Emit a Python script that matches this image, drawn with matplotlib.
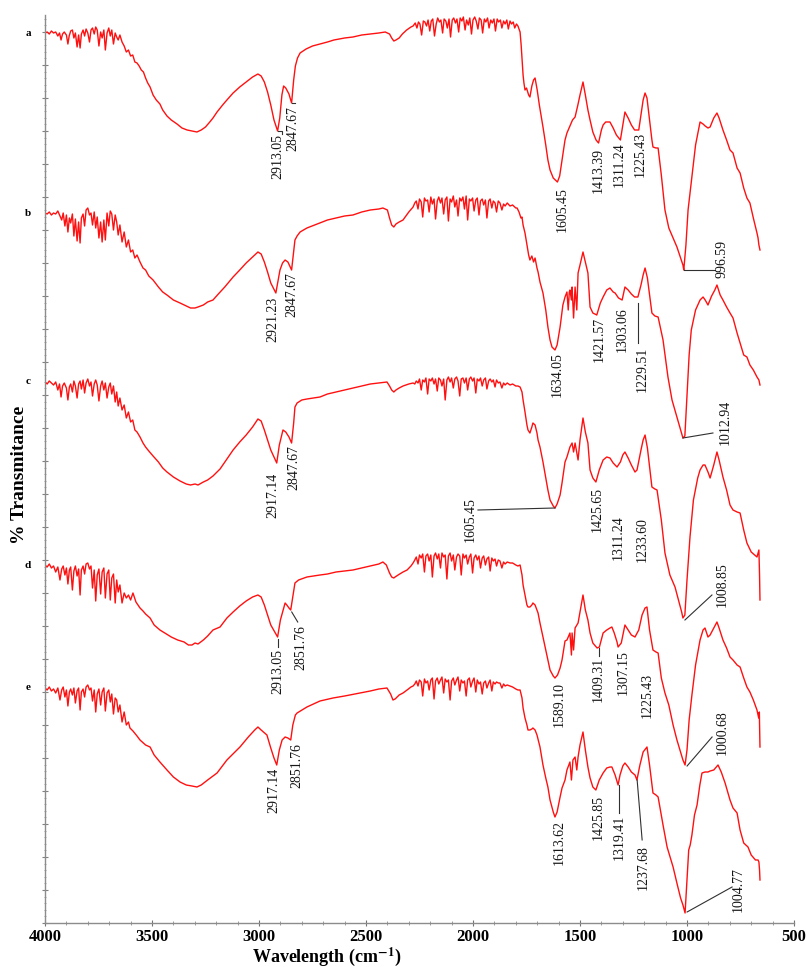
import numpy as np
import matplotlib.pyplot as plt
from matplotlib.ticker import MultipleLocator

plt.rcParams['font.family'] = ['Liberation Serif', 'DejaVu Serif']
plt.rcParams['mathtext.fontset'] = 'stix'

# FTIR spectra: (wavenumber cm-1, %T in arbitrary units,
# 100 = flat high-wavenumber baseline of each sample)
spec_a = [
    (4000, 99), (3990, 100), (3980, 98), (3970, 101), (3960, 99), (3950, 100), (3940, 96), (3932, 99),
    (3925, 92), (3918, 98), (3910, 100), (3900, 97), (3893, 88), (3887, 96), (3880, 101), (3872, 102),
    (3865, 94), (3858, 99), (3850, 85), (3843, 97), (3836, 84), (3830, 98), (3822, 102), (3815, 96),
    (3808, 103), (3800, 99), (3792, 90), (3785, 102), (3778, 104), (3770, 98), (3763, 105), (3756, 102),
    (3748, 86), (3740, 100), (3733, 94), (3725, 102), (3718, 82), (3710, 99), (3702, 104), (3695, 96),
    (3688, 102), (3680, 88), (3672, 99), (3665, 95), (3658, 92), (3650, 97), (3640, 90), (3630, 86),
    (3620, 80), (3610, 82), (3600, 76), (3590, 77), (3580, 70), (3570, 69), (3560, 66), (3550, 62),
    (3540, 60), (3530, 54), (3520, 49), (3509, 45), (3495, 37), (3480, 32), (3463, 28), (3450, 22),
    (3430, 16), (3410, 12), (3383, 8), (3360, 4), (3336, 2), (3313, 1), (3290, 0), (3270, 2),
    (3250, 5), (3230, 10), (3215, 14), (3196, 20), (3170, 27), (3150, 32), (3121, 39), (3090, 45),
    (3060, 50), (3030, 55), (3005, 58), (2990, 56), (2975, 50), (2960, 40), (2945, 27), (2930, 12),
    (2913.05, 1), (2903, 14), (2893, 37), (2885, 46), (2875, 44), (2860, 38), (2847.67, 29), (2838, 52),
    (2830, 66), (2820, 74), (2808, 79), (2780, 83), (2750, 86), (2715, 88), (2680, 90), (2650, 92),
    (2600, 94), (2561, 95), (2520, 97), (2480, 98), (2440, 99), (2410, 100), (2390, 98), (2380, 94),
    (2370, 91), (2360, 92), (2345, 94), (2330, 98), (2310, 102), (2290, 105), (2280, 106), (2270, 109),
    (2262, 104), (2255, 110), (2248, 108), (2240, 97), (2232, 111), (2225, 110), (2217, 106), (2210, 112),
    (2202, 101), (2195, 111), (2188, 113), (2180, 96), (2172, 108), (2165, 114), (2157, 110), (2150, 112),
    (2142, 99), (2135, 113), (2127, 111), (2120, 104), (2112, 113), (2105, 95), (2097, 112), (2090, 114),
    (2082, 109), (2075, 113), (2067, 100), (2060, 114), (2052, 111), (2045, 115), (2037, 102), (2030, 112),
    (2022, 107), (2015, 114), (2007, 98), (2000, 112), (1992, 115), (1985, 111), (1977, 103), (1970, 114),
    (1962, 112), (1955, 99), (1947, 113), (1940, 110), (1932, 114), (1925, 104), (1917, 112), (1910, 109),
    (1902, 113), (1895, 101), (1887, 113), (1880, 110), (1872, 112), (1865, 104), (1857, 111), (1850, 108),
    (1842, 112), (1835, 103), (1827, 111), (1820, 108), (1812, 110), (1805, 104), (1797, 108), (1790, 106),
    (1780, 100), (1775, 87), (1770, 70), (1766, 57), (1762, 49), (1757, 42), (1750, 44), (1740, 37),
    (1734, 35), (1725, 46), (1717, 52), (1710, 54), (1700, 42), (1690, 27), (1680, 14), (1673, 5),
    (1660, -13), (1650, -28), (1640, -38), (1625, -46), (1605.45, -50), (1595, -44), (1584, -28), (1570, -8),
    (1561, -1), (1545, 7), (1535, 12), (1523, 15), (1510, 27), (1500, 37), (1486, 50), (1475, 37),
    (1463, 22), (1453, 12), (1440, 0), (1425, -8), (1413.39, -11), (1400, 2), (1392, 7), (1380, 10),
    (1360, 10), (1345, 4), (1330, -3), (1311.24, -8), (1300, 7), (1290, 20), (1275, 14), (1260, 7),
    (1245, 2), (1225.43, 2), (1215, 17), (1205, 32), (1196, 39), (1187, 34), (1175, 12), (1164, -8),
    (1159, -15), (1145, -16), (1135, -16), (1120, -43), (1103, -78), (1085, -96), (1065, -106), (1047, -115),
    (1030, -126), (1019, -133), (1015, -138), (1005, -113), (995, -78), (977, -45), (960, -13), (939, 10),
    (925, 8), (915, 6), (902, 4), (892, 5), (875, 14), (860, 19), (850, 14), (832, 2),
    (815, -8), (799, -18), (785, -21), (766, -36), (752, -41), (735, -56), (720, -66), (706, -71),
    (690, -86), (673, -101), (668, -106), (664, -113), (659, -118),
]

spec_b = [
    (4000, 100), (3990, 99), (3980, 101), (3970, 98), (3960, 100), (3950, 99), (3940, 102), (3930, 97),
    (3922, 93), (3915, 100), (3907, 87), (3900, 98), (3893, 81), (3886, 95), (3880, 90), (3872, 99),
    (3865, 77), (3858, 94), (3850, 72), (3843, 91), (3836, 70), (3830, 95), (3822, 99), (3815, 87),
    (3808, 103), (3800, 105), (3792, 98), (3785, 100), (3778, 88), (3770, 101), (3763, 85), (3756, 96),
    (3748, 75), (3740, 91), (3733, 71), (3725, 93), (3718, 73), (3710, 100), (3702, 87), (3695, 102),
    (3688, 99), (3680, 83), (3672, 98), (3665, 91), (3658, 78), (3650, 88), (3640, 71), (3630, 81),
    (3620, 66), (3610, 73), (3600, 61), (3590, 63), (3580, 55), (3570, 58), (3556, 51), (3542, 45),
    (3530, 43), (3515, 37), (3495, 33), (3470, 26), (3450, 21), (3430, 18), (3400, 13), (3369, 10),
    (3340, 7), (3320, 5), (3299, 5), (3285, 6), (3260, 8), (3240, 11), (3215, 13), (3190, 19),
    (3160, 26), (3121, 36), (3090, 43), (3060, 50), (3030, 56), (3005, 61), (2990, 59), (2975, 51),
    (2960, 41), (2945, 30), (2921.23, 20), (2912, 31), (2902, 43), (2890, 50), (2878, 53), (2865, 51),
    (2847.67, 43), (2840, 58), (2832, 73), (2822, 77), (2808, 81), (2776, 85), (2740, 88), (2715, 90),
    (2680, 93), (2640, 95), (2600, 97), (2561, 98), (2520, 101), (2480, 103), (2440, 104), (2421, 105),
    (2400, 103), (2390, 95), (2380, 88), (2370, 86), (2360, 89), (2345, 91), (2327, 93), (2300, 101),
    (2280, 106), (2272, 110), (2265, 112), (2257, 104), (2250, 114), (2242, 111), (2235, 96), (2227, 115),
    (2220, 112), (2212, 113), (2205, 101), (2197, 116), (2190, 109), (2182, 114), (2175, 94), (2167, 112),
    (2160, 116), (2152, 110), (2145, 115), (2137, 99), (2130, 113), (2122, 116), (2115, 92), (2107, 114),
    (2100, 111), (2092, 117), (2085, 106), (2077, 113), (2070, 97), (2062, 115), (2055, 112), (2047, 116),
    (2040, 104), (2032, 117), (2025, 93), (2017, 114), (2010, 112), (2002, 115), (1995, 102), (1987, 113),
    (1980, 115), (1972, 98), (1965, 112), (1957, 114), (1950, 108), (1942, 113), (1935, 95), (1927, 112),
    (1920, 114), (1912, 105), (1905, 112), (1897, 110), (1890, 101), (1882, 112), (1874, 110), (1865, 103),
    (1857, 109), (1850, 107), (1840, 110), (1827, 107), (1815, 108), (1800, 105), (1794, 105), (1785, 101),
    (1776, 95), (1771, 96), (1766, 88), (1757, 80), (1748, 68), (1740, 58), (1734, 53), (1725, 57),
    (1717, 51), (1710, 55), (1701, 45), (1696, 41), (1687, 31), (1673, 20), (1660, 3), (1650, -14),
    (1640, -27), (1631, -34), (1617, -37), (1607, -32), (1593, -14), (1580, 8), (1570, 16), (1561, 21),
    (1555, 3), (1550, 21), (1547, 23), (1540, 13), (1537, 26), (1530, -5), (1523, 26), (1515, 3),
    (1509, 40), (1500, 48), (1486, 61), (1475, 51), (1463, 40), (1453, 6), (1440, 0), (1421.57, -2),
    (1405, 10), (1392, 16), (1375, 23), (1360, 25), (1345, 21), (1336, 20), (1320, 15), (1303.06, 13),
    (1290, 26), (1275, 23), (1260, 19), (1245, 16), (1229.51, 16), (1215, 28), (1205, 38), (1196, 45),
    (1185, 35), (1164, 0), (1150, -3), (1135, -4), (1112, -27), (1089, -64), (1070, -87), (1050, -102),
    (1033, -115), (1019, -125), (1010, -123), (1000, -82), (990, -42), (980, -17), (960, 3), (939, 13),
    (925, 16), (915, 13), (902, 8), (885, 17), (870, 23), (860, 28), (845, 18), (832, 13),
    (815, 6), (799, 0), (785, -5), (766, -20), (752, -30), (735, -42), (720, -44), (706, -52),
    (690, -57), (673, -64), (664, -67), (659, -72),
]

spec_c = [
    (4000, 100), (3990, 98), (3980, 101), (3970, 99), (3960, 97), (3950, 100), (3940, 92), (3932, 98),
    (3925, 85), (3918, 96), (3910, 99), (3900, 94), (3893, 82), (3886, 95), (3880, 98), (3872, 90),
    (3865, 101), (3858, 96), (3850, 84), (3843, 98), (3836, 101), (3830, 93), (3822, 102), (3815, 89),
    (3808, 99), (3800, 103), (3792, 96), (3785, 100), (3778, 86), (3770, 98), (3763, 102), (3756, 97),
    (3748, 81), (3740, 96), (3733, 101), (3725, 92), (3718, 99), (3710, 84), (3702, 95), (3695, 99),
    (3688, 88), (3680, 96), (3672, 80), (3665, 90), (3658, 76), (3650, 84), (3640, 72), (3630, 77),
    (3620, 64), (3610, 70), (3600, 60), (3590, 62), (3580, 52), (3570, 50), (3556, 45), (3542, 39),
    (3530, 35), (3515, 31), (3495, 26), (3470, 20), (3450, 14), (3430, 10), (3400, 5), (3369, 1),
    (3340, -2), (3320, -3), (3299, -2), (3285, -3), (3260, 0), (3240, 2), (3215, 6), (3182, 13),
    (3150, 23), (3121, 32), (3090, 40), (3060, 47), (3030, 55), (3005, 63), (2990, 61), (2975, 52),
    (2960, 42), (2945, 32), (2917.14, 19), (2905, 37), (2888, 52), (2875, 50), (2860, 45), (2847.67, 39),
    (2838, 59), (2832, 75), (2822, 79), (2800, 82), (2776, 83), (2715, 85), (2680, 88), (2640, 90),
    (2600, 92), (2561, 94), (2520, 96), (2480, 98), (2440, 99), (2402, 100), (2390, 96), (2380, 92),
    (2370, 90), (2360, 92), (2345, 94), (2327, 96), (2300, 98), (2280, 99), (2272, 98), (2265, 101),
    (2257, 99), (2250, 103), (2242, 92), (2235, 102), (2227, 100), (2220, 104), (2212, 88), (2205, 103),
    (2197, 101), (2190, 104), (2182, 98), (2175, 103), (2167, 91), (2160, 104), (2152, 102), (2145, 96),
    (2137, 103), (2130, 82), (2122, 102), (2115, 105), (2107, 100), (2100, 104), (2092, 94), (2085, 103),
    (2077, 105), (2070, 101), (2062, 86), (2055, 103), (2047, 104), (2040, 99), (2032, 104), (2025, 92),
    (2017, 103), (2010, 105), (2002, 101), (1995, 104), (1987, 89), (1980, 103), (1972, 101), (1965, 104),
    (1957, 96), (1950, 102), (1942, 104), (1935, 93), (1927, 101), (1920, 103), (1912, 100), (1905, 102),
    (1897, 95), (1890, 102), (1882, 99), (1874, 100), (1865, 94), (1857, 99), (1850, 97), (1840, 99),
    (1827, 97), (1815, 98), (1800, 96), (1790, 96), (1780, 95), (1771, 90), (1766, 82), (1757, 70),
    (1748, 57), (1743, 52), (1734, 49), (1725, 55), (1720, 59), (1710, 57), (1701, 49), (1696, 42),
    (1687, 35), (1673, 20), (1660, 4), (1650, -8), (1640, -18), (1625, -24), (1617, -26), (1607, -22),
    (1593, -13), (1584, -1), (1570, 20), (1561, 25), (1547, 35), (1537, 39), (1530, 30), (1523, 39),
    (1509, 22), (1500, 42), (1486, 64), (1475, 50), (1463, 39), (1453, 12), (1440, 4), (1425.65, 0),
    (1410, 12), (1392, 22), (1375, 25), (1360, 24), (1345, 19), (1327, 15), (1311.24, 20), (1300, 27),
    (1290, 30), (1275, 24), (1260, 17), (1243, 10), (1233.60, 12), (1215, 32), (1205, 42), (1196, 47),
    (1185, 34), (1164, -5), (1150, -7), (1140, -8), (1120, -38), (1103, -71), (1080, -93), (1056, -105),
    (1040, -118), (1025, -130), (1019, -136), (1010, -133), (1000, -98), (986, -55), (970, -18), (950, 4),
    (939, 12), (925, 17), (916, 17), (902, 10), (892, 4), (875, 17), (860, 30), (850, 22),
    (832, 5), (815, -8), (799, -23), (785, -28), (766, -30), (752, -31), (735, -48), (720, -61),
    (700, -70), (673, -75), (664, -68), (661, -93), (659, -118),
]

spec_d = [
    (4000, 100), (3990, 98), (3980, 101), (3970, 97), (3960, 99), (3950, 93), (3940, 98), (3930, 85),
    (3922, 96), (3915, 99), (3907, 90), (3900, 97), (3893, 81), (3886, 95), (3880, 98), (3872, 75),
    (3865, 94), (3858, 99), (3850, 89), (3843, 96), (3836, 70), (3830, 95), (3822, 99), (3815, 91),
    (3808, 101), (3800, 102), (3792, 96), (3785, 99), (3778, 77), (3770, 95), (3763, 64), (3756, 90),
    (3748, 96), (3740, 71), (3733, 93), (3725, 97), (3718, 67), (3710, 91), (3702, 95), (3695, 65),
    (3688, 87), (3680, 91), (3672, 62), (3665, 85), (3658, 73), (3650, 80), (3640, 62), (3630, 72),
    (3620, 67), (3610, 70), (3600, 65), (3589, 72), (3575, 63), (3556, 57), (3542, 54), (3530, 51),
    (3509, 47), (3490, 40), (3463, 35), (3440, 32), (3410, 28), (3380, 25), (3350, 23), (3330, 20),
    (3313, 20), (3299, 22), (3285, 21), (3260, 25), (3240, 29), (3215, 35), (3182, 38), (3150, 47),
    (3121, 53), (3090, 59), (3060, 64), (3030, 68), (3005, 70), (2990, 68), (2975, 60), (2960, 50),
    (2945, 40), (2913.05, 28), (2900, 45), (2878, 62), (2870, 60), (2860, 57), (2851.76, 55), (2842, 68),
    (2832, 82), (2815, 85), (2776, 88), (2715, 90), (2680, 91), (2640, 93), (2600, 94), (2561, 95),
    (2520, 97), (2480, 99), (2440, 101), (2421, 103), (2405, 100), (2390, 92), (2380, 88), (2370, 87),
    (2364, 88), (2350, 90), (2327, 93), (2308, 95), (2290, 99), (2280, 102), (2272, 105), (2265, 108),
    (2257, 101), (2250, 110), (2242, 107), (2235, 111), (2227, 93), (2220, 109), (2212, 111), (2205, 104),
    (2197, 110), (2190, 88), (2182, 109), (2175, 112), (2167, 106), (2160, 111), (2152, 97), (2145, 112),
    (2137, 108), (2130, 110), (2122, 86), (2115, 109), (2107, 112), (2100, 104), (2092, 110), (2085, 95),
    (2077, 108), (2070, 111), (2062, 109), (2055, 90), (2047, 111), (2040, 107), (2032, 110), (2025, 101),
    (2017, 108), (2010, 111), (2002, 92), (1995, 107), (1987, 110), (1980, 105), (1972, 109), (1965, 97),
    (1957, 107), (1950, 109), (1942, 100), (1935, 106), (1927, 108), (1920, 94), (1912, 107), (1905, 104),
    (1897, 106), (1890, 99), (1882, 105), (1874, 104), (1865, 97), (1857, 103), (1850, 101), (1840, 103),
    (1827, 102), (1815, 102), (1800, 100), (1790, 99), (1780, 100), (1771, 90), (1766, 80), (1757, 70),
    (1748, 60), (1743, 58), (1734, 58), (1725, 60), (1720, 62), (1710, 60), (1696, 52), (1687, 42),
    (1673, 28), (1660, 15), (1650, 5), (1640, -5), (1625, -11), (1617, -13), (1605, -10), (1593, -3),
    (1584, 5), (1570, 24), (1561, 25), (1547, 32), (1540, 10), (1537, 32), (1530, 15), (1523, 37),
    (1509, 42), (1500, 53), (1486, 70), (1475, 55), (1463, 45), (1453, 32), (1440, 22), (1420, 17),
    (1409.31, 18), (1392, 32), (1375, 35), (1360, 37), (1351, 38), (1340, 32), (1327, 23), (1322, 18),
    (1307.15, 22), (1290, 40), (1275, 35), (1260, 30), (1243, 28), (1225.43, 35), (1210, 50), (1196, 57),
    (1187, 58), (1175, 35), (1159, 15), (1145, 13), (1135, 12), (1120, -13), (1103, -28), (1085, -40),
    (1065, -60), (1047, -75), (1030, -87), (1019, -95), (1009, -100), (1000, -85), (990, -55), (977, -30),
    (960, 0), (939, 25), (925, 35), (916, 37), (902, 28), (892, 30), (875, 37), (860, 43),
    (850, 37), (832, 25), (815, 17), (799, 8), (785, 5), (766, 0), (752, -2), (735, -13),
    (720, -22), (706, -27), (690, -35), (673, -45), (665, -53), (662, -47), (660, -75), (659, -82),
]

spec_e = [
    (4000, 100), (3990, 98), (3980, 101), (3970, 97), (3960, 99), (3950, 95), (3940, 100), (3930, 88),
    (3922, 98), (3915, 101), (3907, 91), (3900, 98), (3893, 82), (3886, 96), (3880, 99), (3872, 93),
    (3865, 100), (3858, 85), (3850, 97), (3843, 100), (3836, 78), (3830, 96), (3822, 99), (3815, 91),
    (3808, 101), (3800, 103), (3792, 98), (3785, 100), (3778, 87), (3770, 98), (3763, 76), (3756, 94),
    (3748, 99), (3740, 83), (3733, 96), (3725, 100), (3718, 77), (3710, 95), (3702, 98), (3695, 86),
    (3688, 94), (3680, 74), (3672, 90), (3665, 88), (3658, 76), (3650, 83), (3640, 66), (3630, 76),
    (3620, 63), (3610, 66), (3603, 60), (3589, 57), (3570, 52), (3556, 48), (3530, 43), (3509, 41),
    (3490, 33), (3463, 26), (3430, 18), (3400, 11), (3369, 6), (3340, 3), (3313, 2), (3290, 1),
    (3270, 3), (3240, 8), (3196, 15), (3150, 28), (3089, 41), (3050, 51), (3020, 58), (3005, 61),
    (2990, 58), (2963, 53), (2945, 40), (2930, 30), (2917.14, 23), (2905, 38), (2892, 48), (2878, 51),
    (2865, 50), (2851.76, 48), (2842, 63), (2830, 73), (2822, 75), (2776, 81), (2715, 87), (2654, 90),
    (2600, 92), (2528, 95), (2480, 97), (2440, 99), (2402, 100), (2385, 94), (2374, 88), (2364, 89),
    (2345, 93), (2327, 95), (2308, 98), (2290, 101), (2280, 102), (2272, 104), (2265, 107), (2257, 102),
    (2250, 108), (2242, 106), (2235, 92), (2227, 109), (2220, 105), (2212, 107), (2205, 98), (2197, 108),
    (2190, 110), (2182, 89), (2175, 107), (2167, 110), (2160, 104), (2152, 108), (2145, 111), (2137, 95),
    (2130, 109), (2122, 106), (2115, 108), (2107, 88), (2100, 107), (2092, 110), (2085, 103), (2077, 108),
    (2070, 111), (2062, 97), (2055, 108), (2047, 105), (2040, 107), (2032, 92), (2025, 108), (2017, 110),
    (2010, 101), (2002, 107), (1995, 110), (1987, 96), (1980, 108), (1972, 104), (1965, 106), (1957, 94),
    (1950, 105), (1942, 107), (1935, 100), (1927, 105), (1920, 108), (1912, 97), (1905, 106), (1897, 104),
    (1890, 106), (1882, 105), (1874, 105), (1865, 100), (1857, 104), (1850, 102), (1840, 103), (1827, 102),
    (1815, 101), (1800, 99), (1790, 98), (1780, 98), (1771, 90), (1766, 80), (1757, 70), (1748, 63),
    (1743, 58), (1734, 58), (1725, 59), (1720, 60), (1710, 58), (1701, 53), (1687, 41), (1673, 23),
    (1660, 10), (1650, 1), (1640, -12), (1625, -24), (1617, -29), (1607, -24), (1593, -9), (1584, 0),
    (1570, 8), (1561, 18), (1547, 26), (1540, 8), (1533, 28), (1523, 31), (1515, 18), (1509, 31),
    (1500, 43), (1486, 56), (1475, 38), (1463, 21), (1453, 10), (1440, 1), (1425.85, -2), (1410, 8),
    (1392, 15), (1375, 20), (1360, 21), (1351, 21), (1336, 13), (1322, 3), (1313, 13), (1300, 22),
    (1290, 25), (1275, 21), (1260, 16), (1243, 13), (1234, 8), (1220, 23), (1205, 36), (1187, 41),
    (1175, 23), (1159, -5), (1145, -7), (1135, -9), (1112, -37), (1093, -59), (1075, -72), (1065, -79),
    (1045, -97), (1030, -110), (1019, -117), (1009, -125), (1000, -92), (992, -62), (985, -57), (977, -47),
    (965, -27), (953, -17), (940, 3), (930, 15), (916, 16), (902, 16), (892, 17), (875, 18),
    (855, 23), (840, 16), (822, 5), (799, -12), (785, -20), (766, -25), (752, -42), (735, -55),
    (715, -59), (700, -67), (680, -72), (668, -72), (664, -74), (661, -82), (659, -92),
]

samples = ['a', 'b', 'c', 'd', 'e']

# band labels: (text, wavenumber of the band minimum they point to)
peaks_a = [('2913.05', 2913.05), ('2847.67', 2847.67), ('1605.45', 1605.45), ('1413.39', 1413.39),
           ('1311.24', 1311.24), ('1225.43', 1225.43), ('996.59', 1015)]
peaks_b = [('2921.23', 2921.23), ('2847.67', 2847.67), ('1634.05', 1617), ('1421.57', 1421.57),
           ('1303.06', 1303.06), ('1229.51', 1229.51), ('1012.94', 1019)]
peaks_c = [('2917.14', 2917.14), ('2847.67', 2847.67), ('1605.45', 1617), ('1425.65', 1425.65),
           ('1311.24', 1311.24), ('1233.60', 1233.60), ('1008.85', 1019)]
peaks_d = [('2913.05', 2913.05), ('2851.76', 2851.76), ('1589.10', 1617), ('1409.31', 1409.31),
           ('1307.15', 1307.15), ('1225.43', 1225.43), ('1000.68', 1009)]
peaks_e = [('2917.14', 2917.14), ('2851.76', 2851.76), ('1613.62', 1617), ('1425.85', 1425.85),
           ('1319.41', 1319.41), ('1237.68', 1237.68), ('1004.77', 1009)]

# layout: vertical shift of each spectrum, label offsets in pixels (dx right, dy up)
# from the band minimum to the top of the rotated label, and leader line points
offsets = [791, 610, 441, 258, 135]
layout_a = [(0, -3, [(0, 0), (4, 0), (4, -3)]), (1, -3, [(0, 0), (3, 0)]), (5, -5, None),
            (0, -5, None), (-1, -2, None), (1, -2, None), (38, 30, [(0, 0), (31, 0)])]
layout_b = [(-3, -4, None), (0, -2, None), (2, -2, None), (2, -2, None), (0, -7, None),
            (4, -50, [(0, -6), (0, -46)]), (42, 38, [(0, 0), (30, 5)])]
layout_c = [(-4, -10, None), (2, -2, None), (-85, 11, [(0, 0), (-77, -2)]), (1, -5, None),
            (-2, -53, None), (5, -47, None), (39, 56, [(2, -2), (29, 23)])]
layout_d = [(0, -12, [(0, -2), (0, -10)]), (10, -15, [(1, -2), (7, -12)]), (4, -4, None),
            (-1, -10, [(0, -1), (0, -9)]), (2, -7, None), (8, -43, None), (37, 55, [(2, -1), (27, 28)])]
layout_e = [(-3, -3, None), (6, -3, None), (4, -3, None), (2, -5, None),
            (1, -33, [(0, -3), (0, -31)]), (7, -67, [(1, -2), (6, -62)]), (53, 46, [(2, 1), (47, 26)])]

fig = plt.figure(figsize=(8.06, 9.67), dpi=100)
ax = fig.add_axes([45 / 806, 44 / 967, 749 / 806, 908 / 967])
ax.set_xlim(4000, 500)
ax.set_ylim(0, 908)
px_w = 3500 / 749  # cm-1 per pixel along x (y data units are pixels)

specs = [spec_a, spec_b, spec_c, spec_d, spec_e]
peaks = [peaks_a, peaks_b, peaks_c, peaks_d, peaks_e]
layouts = [layout_a, layout_b, layout_c, layout_d, layout_e]

for name, spec, off, pk, lay in zip(samples, specs, offsets, peaks, layouts):
    w, t = np.array(spec).T
    y = t + off
    ax.plot(w, y, color='#ff1010', lw=1.0)
    ax.text(4000 + 17 * px_w, y[0], name, fontsize=8, fontweight='bold',
            ha='center', va='center', clip_on=False)
    for (lab, wp), (dx, dy, lead) in zip(pk, lay):
        yp = np.interp(wp, w[::-1], y[::-1])
        ax.text(wp - dx * px_w, yp + dy, lab, rotation=90, ha='center', va='top',
                fontsize=10, color='#151515')
        if lead:
            lx = [wp - p[0] * px_w for p in lead]
            ly = [yp + p[1] for p in lead]
            ax.plot(lx, ly, color='#303030', lw=0.8)

for s in ['top', 'right']:
    ax.spines[s].set_visible(False)
for s in ['left', 'bottom']:
    ax.spines[s].set_color('0.55')
    ax.spines[s].set_linewidth(1.0)

ax.xaxis.set_major_locator(MultipleLocator(500))
ax.xaxis.set_minor_locator(MultipleLocator(100))
ax.yaxis.set_major_locator(MultipleLocator(33))
ax.yaxis.set_minor_locator(MultipleLocator(6.6))
ax.tick_params(axis='x', which='major', direction='inout', length=5, color='0.45', pad=1.5,
               labelsize=12)
ax.tick_params(axis='x', which='minor', direction='inout', length=3, color='0.55')
ax.tick_params(axis='y', which='major', direction='inout', length=4, color='0.5', labelleft=False)
ax.tick_params(axis='y', which='minor', direction='inout', length=2, color='0.6')
for lbl in ax.get_xticklabels():
    lbl.set_fontweight('bold')

fig.text(327 / 806, 1 - 962 / 967, r'Wavelength (cm$^{\mathbf{-1}}$)', fontsize=13,
         fontweight='bold', ha='center', va='baseline')
fig.text(20 / 806, 1 - 475 / 967, '% Transmitance', fontsize=14, fontweight='bold',
         rotation=90, ha='center', va='center')

fig.savefig('out.png', dpi=100)
